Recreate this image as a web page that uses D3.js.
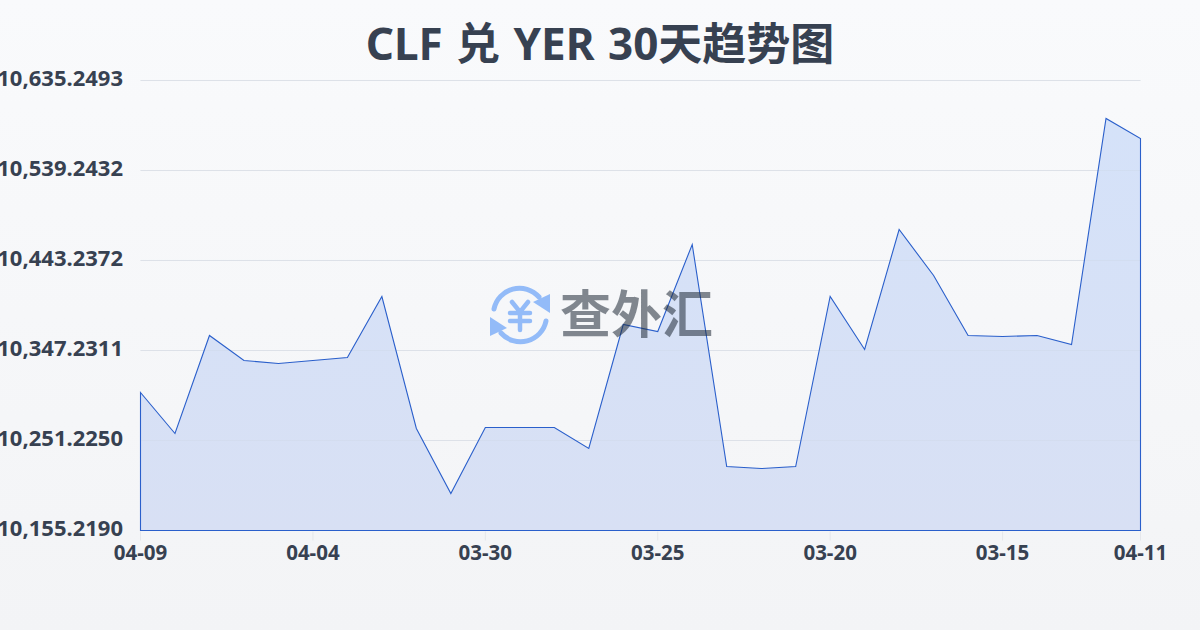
<!DOCTYPE html>
<html><head><meta charset="utf-8">
<script src="https://cdn.jsdelivr.net/npm/d3@7/dist/d3.min.js"></script>
<style>
html,body{margin:0;padding:0;width:1200px;height:630px;overflow:hidden;background:#f8fafc}
svg{display:block}
text{font-family:"Noto Sans","Noto Sans CJK SC",sans-serif}
</style></head><body>
<svg id="c" width="1200" height="630"></svg>
<script>
const titleText = "CLF 兑 YER 30天趋势图";
const watermarkText = "查外汇";
const dates = ["04-09","04-08","04-07","04-06","04-05","04-04","04-03","04-02","04-01","03-31","03-30","03-29","03-28","03-27","03-26","03-25","03-24","03-23","03-22","03-21","03-20","03-19","03-18","03-17","03-16","03-15","03-14","03-13","03-12","04-11"];
const rates = [10302.43,10258.69,10363.23,10336.56,10333.36,10336.56,10339.76,10404.84,10264.03,10194.69,10265.09,10265.09,10265.09,10242.69,10374.97,10367.50,10460.30,10223.49,10221.36,10223.49,10404.84,10348.30,10476.31,10427.24,10363.23,10362.17,10363.23,10353.63,10594.71,10573.38];
const yTicks = [10155.2190,10251.2250,10347.2311,10443.2372,10539.2432,10635.2493];
const xTickDates = ["04-09","04-04","03-30","03-25","03-20","03-15","04-11"];
const margin = {left:140.5,right:1140.5,top:80.5,bottom:530.5};

const svg = d3.select("#c");
const defs = svg.append("defs");
const bg = defs.append("linearGradient").attr("id","bg").attr("x1",0).attr("y1",0).attr("x2",0).attr("y2",1);
bg.append("stop").attr("offset","0%").attr("stop-color","#f9fafc");
bg.append("stop").attr("offset","100%").attr("stop-color","#f3f4f6");
const ag = defs.append("linearGradient").attr("id","ag").attr("gradientUnits","userSpaceOnUse").attr("x1",0).attr("y1",118).attr("x2",0).attr("y2",530);
ag.append("stop").attr("offset","0%").attr("stop-color","#d5e2f9");
ag.append("stop").attr("offset","100%").attr("stop-color","#d8e0f4");
svg.append("rect").attr("width",1200).attr("height",630).attr("fill","url(#bg)");

const x = d3.scalePoint().domain(dates).range([margin.left,margin.right]);
const y = d3.scaleLinear().domain([yTicks[0],yTicks[5]]).range([margin.bottom,margin.top]);

svg.append("g").selectAll("line").data(yTicks.slice(1)).join("line")
  .attr("x1",margin.left).attr("x2",margin.right)
  .attr("y1",d=>y(d)).attr("y2",d=>y(d))
  .attr("stroke","#e5e7eb").attr("stroke-width",1);

const area = d3.area().x((d,i)=>x(dates[i])).y0(margin.bottom).y1(d=>y(d));
svg.append("path").datum(rates).attr("d",area).attr("fill","url(#ag)");
svg.append("g").selectAll("line").data(yTicks.slice(1)).join("line")
  .attr("x1",margin.left).attr("x2",margin.right)
  .attr("y1",d=>y(d)).attr("y2",d=>y(d))
  .attr("stroke","#cbd5e1").attr("stroke-opacity",0.3).attr("stroke-width",1);
svg.append("path").datum(rates).attr("d",area).attr("fill","none").attr("stroke","#2a5fcb").attr("stroke-width",1.1);

const fmt = d3.format(",.4f");
svg.append("g").selectAll("text").data(yTicks).join("text")
  .attr("x",123).attr("y",d=>y(d)-2).attr("dy","0.35em").attr("text-anchor","end")
  .attr("font-size",22).attr("font-weight",700).attr("fill","#374151").text(fmt);
const xIdx = [0,5,10,15,20,25,29];
const xg = svg.append("g");
xg.selectAll("line").data(xIdx).join("line")
  .attr("x1",i=>x(dates[i])).attr("x2",i=>x(dates[i])).attr("y1",margin.bottom+1).attr("y2",margin.bottom+10)
  .attr("stroke","#e5e7eb");
xg.selectAll("text").data(xIdx).join("text")
  .attr("x",i=>x(dates[i])).attr("y",560).attr("text-anchor","middle")
  .attr("font-size",20.5).attr("font-weight",700).attr("fill","#374151").text((i,k)=>xTickDates[k]);

svg.append("text").attr("x",600).attr("y",60).attr("text-anchor","middle")
  .attr("font-size",44).attr("font-weight",700).attr("word-spacing",2).attr("fill","#374151").text(titleText);

const wm = svg.append("g");
const lg = wm.append("g").attr("transform","translate(520,315)").attr("fill","none").attr("stroke","#93bbf8").attr("stroke-linecap","round");
lg.append("path").attr("d","M-26,-6 A26,26 0 0 1 19,-18").attr("stroke-width",5);
lg.append("path").attr("d","M26,6 A26,26 0 0 1 -19,18").attr("stroke-width",5);
lg.append("path").attr("d","M13,-13 L30,-21 L30,-2 Z").attr("fill","#93bbf8").attr("stroke","none");
lg.append("path").attr("d","M-13,13 L-30,21 L-30,2 Z").attr("fill","#93bbf8").attr("stroke","none");
lg.append("path").attr("d","M-8,-13 L0,-3 L8,-13 M-10,-2 H10 M-10,6 H10 M0,-3 V15").attr("stroke-width",4.5);
wm.append("text").attr("x",560).attr("y",333).attr("font-size",51).attr("font-weight",700)
  .attr("fill","#1f2937").attr("fill-opacity",0.55).text(watermarkText);
</script>
</body></html>
